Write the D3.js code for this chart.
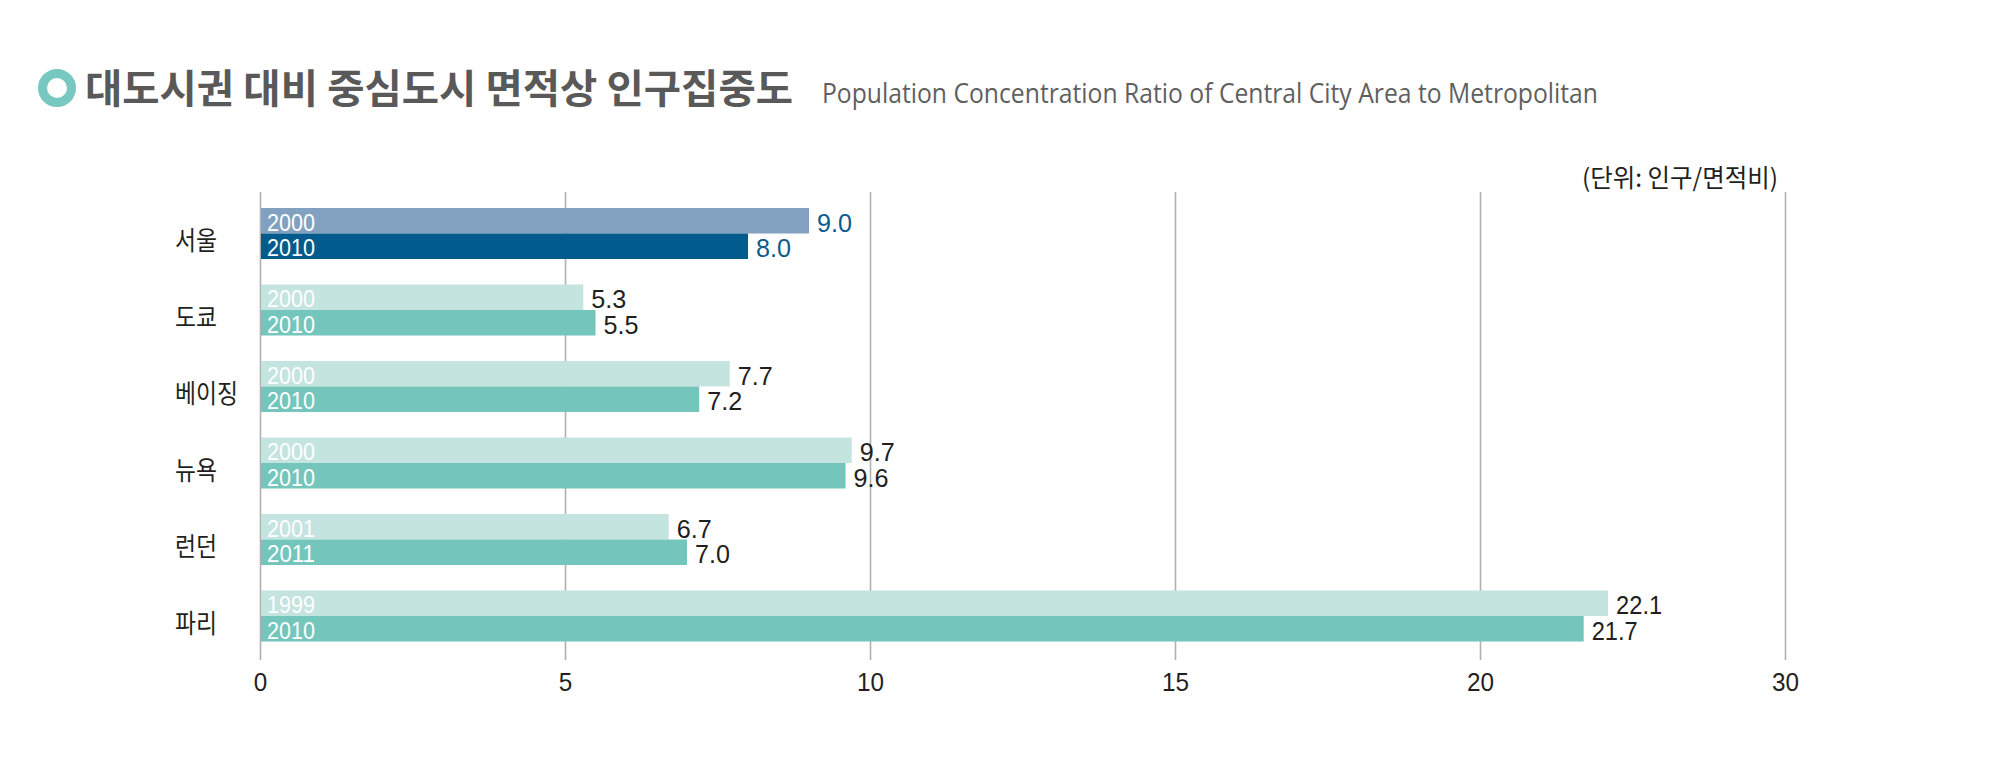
<!DOCTYPE html>
<html>
<head>
<meta charset="utf-8">
<script src="https://cdn.jsdelivr.net/npm/d3@7"></script>
<style>
  html, body { margin: 0; padding: 0; background: #fff; }
  svg { display: block; }
</style>
</head>
<body>
<svg id="chart" width="2000" height="770"></svg>
<script>
// ---- data ----
const cities = ['서울', '도쿄', '베이징', '뉴욕', '런던', '파리'];
const firstYears = ['2000', '2000', '2000', '2000', '2001', '1999'];
const secondYears = ['2010', '2010', '2010', '2010', '2011', '2010'];
const firstValues = [9.0, 5.3, 7.7, 9.7, 6.7, 22.1];
const secondValues = [8.0, 5.5, 7.2, 9.6, 7.0, 21.7];
const tickValues = [0, 5, 10, 15, 20, 25];
const tickLabels = ['0', '5', '10', '15', '20', '30'];
const titleText = '대도시권 대비 중심도시 면적상 인구집중도';
const subtitleText = 'Population Concentration Ratio of Central City Area to Metropolitan';
const unitText = '(단위: 인구/면적비)';

// ---- styles ----
const narrow = "'Liberation Sans Narrow', 'Liberation Sans', Arial, sans-serif";
const kr = "'Noto Sans CJK KR', 'Noto Sans', sans-serif";
const colFirst = ['#82a1c1', '#c4e4e0', '#c4e4e0', '#c4e4e0', '#c4e4e0', '#c4e4e0'];
const colSecond = ['#015b8c', '#74c6bd', '#74c6bd', '#74c6bd', '#74c6bd', '#74c6bd'];
const colValue = ['#0b5b8c', '#231f20', '#231f20', '#231f20', '#231f20', '#231f20'];

const svg = d3.select('#chart');

const rows = cities.map((c, i) => ({
  city: c, i,
  bars: [
    { year: firstYears[i], value: firstValues[i], color: colFirst[i], s: 0 },
    { year: secondYears[i], value: secondValues[i], color: colSecond[i], s: 1 }
  ]
}));

// scales
const x = d3.scaleLinear().domain([0, 25]).range([260, 1785]);
const y = d3.scaleBand().domain(cities).range([208, 641.5]).paddingInner(1 / 3).paddingOuter(0);
const ys = d3.scaleBand().domain([0, 1]).range([0, y.bandwidth()]);

// title
svg.append('circle').attr('cx', 57).attr('cy', 88).attr('r', 14.5)
  .attr('fill', 'none').attr('stroke', '#76c8c0').attr('stroke-width', 9);
svg.append('text').attr('x', 85).attr('y', 103)
  .attr('font-family', kr).attr('font-weight', 'bold').attr('font-size', 40)
  .attr('fill', '#595959')
  .attr('textLength', 708).attr('lengthAdjust', 'spacingAndGlyphs')
  .text(titleText);
svg.append('text').attr('x', 822).attr('y', 103)
  .attr('font-family', "'Open Sans', sans-serif").attr('font-size', 27)
  .attr('fill', '#5f5f5f')
  .attr('textLength', 776).attr('lengthAdjust', 'spacingAndGlyphs')
  .text(subtitleText);

// unit
svg.append('text').attr('x', 1582).attr('y', 187)
  .attr('font-family', kr).attr('font-size', 25).attr('fill', '#231f20')
  .attr('textLength', 196).attr('lengthAdjust', 'spacingAndGlyphs')
  .text(unitText);

// grid / axis
const axis = d3.axisBottom(x).tickValues(tickValues)
  .tickFormat((d, i) => tickLabels[i]).tickSize(660 - 192).tickPadding(13);
const gAxis = svg.append('g').attr('transform', 'translate(0,192)').call(axis);
gAxis.select('.domain').remove();
gAxis.selectAll('.tick line').attr('stroke', '#b0b0b0').attr('stroke-width', 1.6);
gAxis.selectAll('.tick text')
  .attr('font-family', narrow).attr('font-size', 26).attr('fill', '#231f20')
  .each(function () {
    const t = d3.select(this);
    t.attr('textLength', t.text().length * 13.5).attr('lengthAdjust', 'spacingAndGlyphs');
  });

// bars
const g = svg.append('g').selectAll('g.row').data(rows).join('g')
  .attr('class', 'row')
  .attr('transform', d => `translate(0,${y(d.city)})`);

g.selectAll('rect').data(d => d.bars).join('rect')
  .attr('x', x(0) + 1)
  .attr('y', d => ys(d.s))
  .attr('width', d => x(d.value) - x(0) - 1)
  .attr('height', ys.bandwidth())
  .attr('fill', d => d.color);

g.selectAll('text.year').data(d => d.bars).join('text')
  .attr('class', 'year')
  .attr('x', x(0) + 7)
  .attr('y', d => ys(d.s) + ys.bandwidth() - 3)
  .attr('font-family', narrow).attr('font-size', 24).attr('fill', '#ffffff')
  .attr('textLength', 48).attr('lengthAdjust', 'spacingAndGlyphs')
  .text(d => d.year);

g.selectAll('text.val').data(d => d.bars.map(b => ({ ...b, tc: colValue[d.i] }))).join('text')
  .attr('class', 'val')
  .attr('x', d => x(d.value) + 8)
  .attr('y', d => ys(d.s) + ys.bandwidth() - 2)
  .attr('font-family', narrow).attr('font-size', 25).attr('fill', d => d.tc)
  .attr('textLength', d => d.value >= 10 ? 46 : 35).attr('lengthAdjust', 'spacingAndGlyphs')
  .text(d => d.value.toFixed(1));

// category labels
svg.append('g').selectAll('text').data(rows).join('text')
  .attr('x', 175)
  .attr('y', d => y(d.city) + y.bandwidth() / 2 + 5)
  .attr('dominant-baseline', 'central')
  .attr('font-family', kr).attr('font-size', 26).attr('fill', '#231f20')
  .attr('textLength', d => d.city.length * 21).attr('lengthAdjust', 'spacingAndGlyphs')
  .text(d => d.city);
</script>
</body>
</html>
